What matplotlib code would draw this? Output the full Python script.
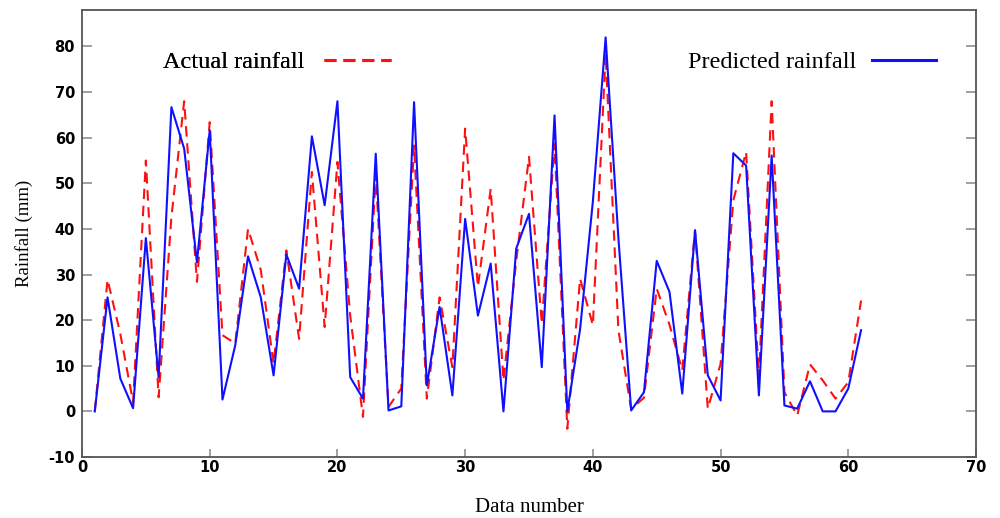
import matplotlib
matplotlib.use("Agg")
import matplotlib.pyplot as plt
from matplotlib.lines import Line2D

data_number = list(range(1, 62))

actual_rainfall = [
    0, 28.9, 17, 2, 55, 3.1, 42.6, 68, 28.4, 63.4,
    16.7, 14.9, 40, 31, 10.5, 35.3, 15.9, 52.5, 18.5, 54.7,
    21, -1.2, 52, 1, 5, 58.3, 2.8, 25, 9.7, 62,
    27.3, 48.8, 6.8, 33, 55.8, 19.2, 58.7, -3.8, 29.1, 18.9,
    78.4, 17.8, 0.5, 3, 26.9, 19, 9, 39.7, 0.6, 10.4,
    46.3, 56.9, 7.5, 68, 4.2, -0.9, 10.3, 6.8, 2.8, 6.4,
    24.3,
]

predicted_rainfall = [
    0, 25, 7.2, 0.7, 38, 7.5, 66.7, 57.6, 32.7, 61.6,
    2.6, 14.5, 34, 25, 7.9, 34.4, 26.9, 60.3, 45.2, 68,
    7.5, 2.8, 56.5, 0.2, 1.1, 67.8, 5.7, 22.9, 3.5, 42.2,
    21, 32.4, 0, 35.7, 43.3, 9.7, 64.9, 0, 18, 46,
    82, 38, 0.2, 4.2, 33, 26.2, 3.9, 39.7, 7.9, 2.4,
    56.6, 53.9, 3.5, 56.1, 1.3, 0.6, 6.6, 0, 0, 5,
    17.8,
]

x_ticks = [0, 10, 20, 30, 40, 50, 60, 70]
y_ticks = [-10, 0, 10, 20, 30, 40, 50, 60, 70, 80]

serif = ["Liberation Serif", "DejaVu Serif"]
tickfont = "DejaVu Sans"

fig = plt.figure(figsize=(10, 5.18), dpi=100)
ax = fig.add_axes([0.082, 1 - 457 / 518, 0.976 - 0.082, (457 - 10) / 518])

red_line, = ax.plot(data_number, actual_rainfall, color="#ff1010", lw=1.5,
                    dashes=(5, 3.2), zorder=2)
blue_line, = ax.plot(data_number, predicted_rainfall, color="#1010ff", lw=1.5,
                     zorder=3)

ax.set_xlim(0, 70)
ax.set_ylim(-10, 88)
ax.set_xticks(x_ticks)
ax.set_yticks(y_ticks)
ax.set_xticklabels([str(v) for v in x_ticks], fontfamily=tickfont,
                   fontweight="bold", fontsize=10.5)
ax.set_yticklabels([str(v) for v in y_ticks], fontfamily=tickfont,
                   fontweight="bold", fontsize=10.5)
ax.tick_params(axis="both", direction="in", color="#999999", width=1.3,
               length=7, top=False, right=True)
ax.tick_params(axis="x", pad=2, length=6)
ax.tick_params(axis="y", pad=5)
for sp in ax.spines.values():
    sp.set_color("#555555")
    sp.set_linewidth(1.3)

ax.set_xlabel("Data number", fontfamily=serif, fontsize=15, labelpad=17)
ax.set_ylabel("Rainfall (mm)", fontfamily=serif, fontsize=13.5, labelpad=11)

h1 = Line2D([], [], color="#ff1010", lw=2.2, dashes=(3.9, 2.3))
h2 = Line2D([], [], color="#1010ff", lw=2.2)
leg1 = fig.legend([h1], ["Actual rainfall"], loc="center left",
                  bbox_to_anchor=(0.163, 1 - 62 / 518), frameon=False,
                  markerfirst=False, handlelength=2.75, handletextpad=0.8,
                  borderpad=0, borderaxespad=0,
                  prop={"family": serif, "size": 17.5})
leg2 = fig.legend([h2], ["Predicted rainfall"], loc="center left",
                  bbox_to_anchor=(0.688, 1 - 62 / 518), frameon=False,
                  markerfirst=False, handlelength=2.65, handletextpad=0.65,
                  borderpad=0, borderaxespad=0,
                  prop={"family": serif, "size": 17.5})
fig.add_artist(leg1)

fig.savefig("out.png", dpi=100)
